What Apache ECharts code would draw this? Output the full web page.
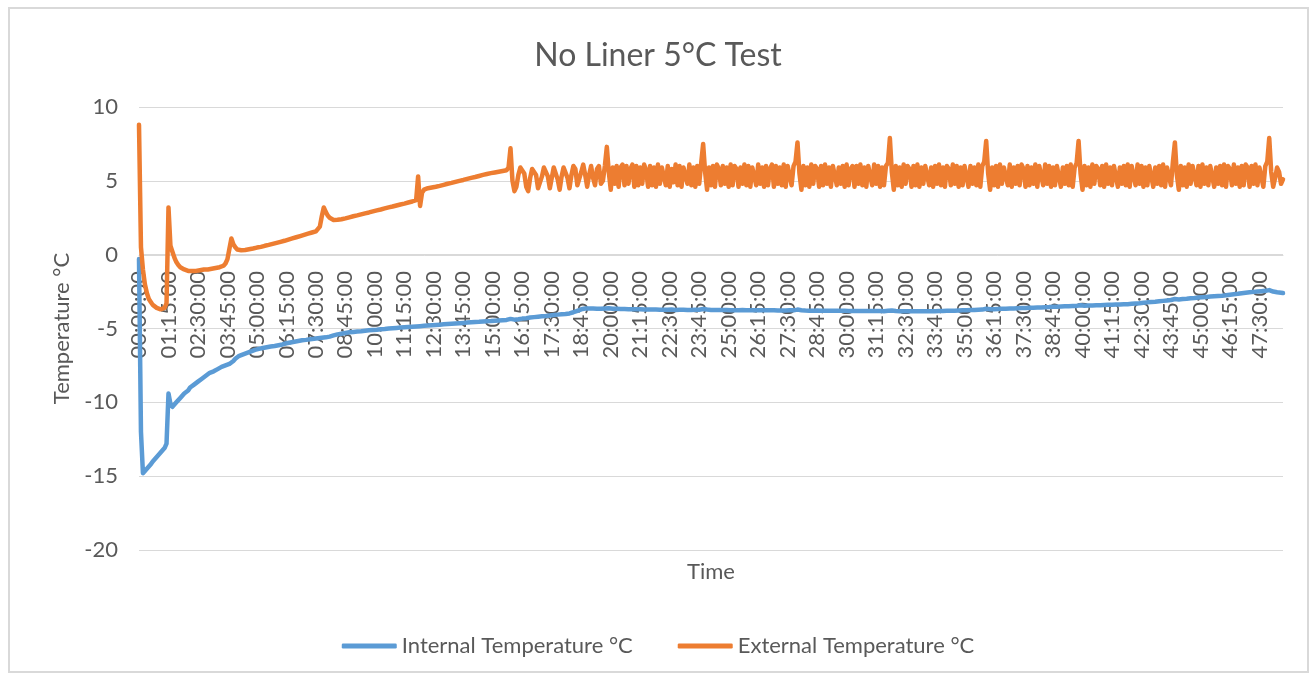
<!DOCTYPE html>
<html>
<head>
<meta charset="utf-8">
<title>No Liner 5°C Test</title>
<script src="https://cdn.jsdelivr.net/npm/echarts@6/dist/echarts.min.js"></script>
<style>
	html, body { margin : 0; padding : 0; background : #ffffff; }
	#main { width : 1316px; height : 679px; }
</style>
</head>
<body>
<div id="main"></div>
<script>
// readings every 5 minutes, 00:00:00 .. 48:30:00
var stepMinutes = 5;
var lastMinute = 2910;

var timeLabels = [];
for (var m = 0; m <= lastMinute; m += stepMinutes) {
	var h = Math.floor(m / 60), mm = m % 60;
	timeLabels.push((h < 10 ? '0' : '') + h + ':' + (mm < 10 ? '0' : '') + mm + ':00');
}

var yTicks = [ -20, -15, -10, -5, 0, 5, 10 ];

// one row per hour (12 readings)
var internalTemp = [
	-0.3, -12.0, -14.8, -14.7, -14.5, -14.4, -14.2, -14.0, -13.9, -13.7, -13.6, -13.4,
	-13.3, -13.1, -12.8, -9.4, -10.1, -10.3, -10.2, -10.0, -9.9, -9.7, -9.6, -9.4,
	-9.3, -9.2, -9.0, -8.9, -8.8, -8.7, -8.6, -8.5, -8.4, -8.3, -8.2, -8.1,
	-8.0, -7.95, -7.9, -7.8, -7.75, -7.7, -7.6, -7.55, -7.5, -7.45, -7.4, -7.3,
	-7.2, -7.05, -6.95, -6.85, -6.8, -6.75, -6.7, -6.65, -6.6, -6.55, -6.5, -6.45,
	-6.4, -6.38, -6.35, -6.32, -6.3, -6.27, -6.25, -6.22, -6.2, -6.18, -6.15, -6.13,
	-6.1, -6.08, -6.05, -6.0, -5.98, -5.95, -5.92, -5.9, -5.87, -5.85, -5.82, -5.8,
	-5.78, -5.77, -5.75, -5.73, -5.72, -5.7, -5.68, -5.66, -5.65, -5.63, -5.62, -5.6,
	-5.58, -5.55, -5.5, -5.47, -5.44, -5.4, -5.37, -5.35, -5.32, -5.3, -5.28, -5.26,
	-5.25, -5.23, -5.22, -5.2, -5.19, -5.18, -5.16, -5.15, -5.14, -5.12, -5.11, -5.1,
	-5.09, -5.08, -5.06, -5.05, -5.04, -5.03, -5.02, -5.0, -4.99, -4.98, -4.97, -4.96,
	-4.95, -4.94, -4.93, -4.92, -4.91, -4.9, -4.89, -4.88, -4.87, -4.86, -4.85, -4.84,
	-4.83, -4.82, -4.81, -4.8, -4.79, -4.78, -4.77, -4.76, -4.75, -4.74, -4.73, -4.72,
	-4.71, -4.7, -4.69, -4.68, -4.67, -4.66, -4.65, -4.64, -4.63, -4.62, -4.61, -4.6,
	-4.59, -4.58, -4.57, -4.56, -4.55, -4.55, -4.54, -4.53, -4.52, -4.51, -4.5, -4.5,
	-4.49, -4.48, -4.47, -4.46, -4.45, -4.44, -4.43, -4.42, -4.4, -4.35, -4.38, -4.4,
	-4.39, -4.37, -4.35, -4.33, -4.31, -4.3, -4.28, -4.26, -4.25, -4.23, -4.22, -4.2,
	-4.19, -4.17, -4.16, -4.15, -4.13, -4.12, -4.1, -4.09, -4.08, -4.06, -4.05, -4.04,
	-4.03, -4.02, -4.0, -3.98, -3.95, -3.9, -3.85, -3.8, -3.75, -3.7, -3.67, -3.65,
	-3.64, -3.64, -3.65, -3.65, -3.66, -3.66, -3.66, -3.67, -3.66, -3.65, -3.6, -3.63,
	-3.65, -3.66, -3.66, -3.67, -3.67, -3.68, -3.68, -3.68, -3.69, -3.69, -3.7, -3.7,
	-3.7, -3.7, -3.71, -3.7, -3.71, -3.72, -3.71, -3.72, -3.72, -3.71, -3.72, -3.72,
	-3.72, -3.73, -3.72, -3.73, -3.72, -3.73, -3.73, -3.72, -3.73, -3.74, -3.73, -3.73,
	-3.74, -3.73, -3.74, -3.74, -3.73, -3.74, -3.74, -3.73, -3.74, -3.73, -3.7, -3.68,
	-3.7, -3.72, -3.73, -3.74, -3.74, -3.75, -3.74, -3.75, -3.75, -3.74, -3.75, -3.75,
	-3.75, -3.76, -3.75, -3.76, -3.75, -3.76, -3.76, -3.75, -3.76, -3.76, -3.75, -3.76,
	-3.76, -3.76, -3.77, -3.76, -3.77, -3.76, -3.77, -3.77, -3.76, -3.77, -3.77, -3.77,
	-3.77, -3.78, -3.77, -3.78, -3.77, -3.78, -3.78, -3.77, -3.78, -3.77, -3.74, -3.72,
	-3.74, -3.76, -3.77, -3.78, -3.78, -3.79, -3.78, -3.79, -3.79, -3.78, -3.79, -3.79,
	-3.79, -3.8, -3.79, -3.8, -3.8, -3.79, -3.8, -3.8, -3.81, -3.8, -3.81, -3.8,
	-3.81, -3.81, -3.8, -3.81, -3.82, -3.81, -3.81, -3.82, -3.81, -3.82, -3.82, -3.81,
	-3.82, -3.82, -3.83, -3.82, -3.83, -3.82, -3.83, -3.83, -3.82, -3.8, -3.77, -3.78,
	-3.8, -3.82, -3.83, -3.83, -3.84, -3.83, -3.84, -3.84, -3.83, -3.84, -3.84, -3.83,
	-3.84, -3.83, -3.84, -3.83, -3.83, -3.84, -3.83, -3.83, -3.82, -3.83, -3.82, -3.82,
	-3.82, -3.81, -3.81, -3.8, -3.8, -3.8, -3.79, -3.79, -3.78, -3.78, -3.78, -3.77,
	-3.77, -3.76, -3.76, -3.75, -3.75, -3.74, -3.74, -3.73, -3.73, -3.72, -3.69, -3.66,
	-3.68, -3.7, -3.7, -3.69, -3.69, -3.68, -3.68, -3.67, -3.67, -3.66, -3.66, -3.65,
	-3.65, -3.64, -3.64, -3.63, -3.63, -3.62, -3.62, -3.61, -3.61, -3.6, -3.6, -3.59,
	-3.59, -3.58, -3.58, -3.57, -3.56, -3.56, -3.55, -3.55, -3.54, -3.53, -3.53, -3.52,
	-3.52, -3.51, -3.51, -3.5, -3.5, -3.49, -3.49, -3.48, -3.48, -3.47, -3.44, -3.42,
	-3.44, -3.46, -3.46, -3.45, -3.45, -3.44, -3.44, -3.43, -3.43, -3.42, -3.42, -3.41,
	-3.41, -3.4, -3.4, -3.39, -3.39, -3.38, -3.37, -3.37, -3.36, -3.36, -3.35, -3.35,
	-3.34, -3.33, -3.32, -3.31, -3.3, -3.29, -3.27, -3.26, -3.25, -3.23, -3.22, -3.21,
	-3.2, -3.19, -3.17, -3.16, -3.14, -3.13, -3.11, -3.1, -3.08, -3.07, -3.03, -3.0,
	-3.02, -3.03, -3.02, -3.0, -2.99, -2.98, -2.96, -2.95, -2.94, -2.93, -2.92, -2.9,
	-2.89, -2.88, -2.87, -2.86, -2.85, -2.84, -2.83, -2.82, -2.81, -2.8, -2.79, -2.78,
	-2.76, -2.75, -2.73, -2.71, -2.7, -2.68, -2.66, -2.65, -2.63, -2.61, -2.6, -2.58,
	-2.56, -2.55, -2.53, -2.52, -2.5, -2.49, -2.48, -2.47, -2.46, -2.45, -2.42, -2.4,
	-2.45, -2.5, -2.52, -2.55, -2.57, -2.58, -2.6
];

var externalTemp = [
	8.8, 0.5, -1.0, -2.0, -2.6, -3.0, -3.2, -3.4, -3.5, -3.6, -3.7, -3.7,
	-3.7, -3.6, -3.3, 3.2, 0.6, 0.2, -0.2, -0.5, -0.7, -0.85, -0.95, -1.0,
	-1.05, -1.1, -1.1, -1.1, -1.1, -1.1, -1.1, -1.05, -1.05, -1.0, -1.0, -1.0,
	-0.95, -0.95, -0.9, -0.9, -0.85, -0.85, -0.8, -0.75, -0.6, -0.3, 0.4, 1.1,
	0.7, 0.5, 0.35, 0.3, 0.3, 0.3, 0.32, 0.35, 0.37, 0.4, 0.42, 0.45,
	0.48, 0.5, 0.53, 0.56, 0.6, 0.63, 0.66, 0.7, 0.73, 0.76, 0.8, 0.83,
	0.87, 0.9, 0.94, 0.98, 1.02, 1.06, 1.1, 1.14, 1.18, 1.22, 1.26, 1.3,
	1.34, 1.38, 1.42, 1.46, 1.5, 1.54, 1.58, 1.65, 1.9, 2.6, 3.2, 2.9,
	2.65, 2.5, 2.4, 2.35, 2.35, 2.36, 2.38, 2.4, 2.43, 2.46, 2.5, 2.53,
	2.56, 2.6, 2.63, 2.66, 2.7, 2.73, 2.76, 2.8, 2.83, 2.86, 2.9, 2.93,
	2.96, 3.0, 3.03, 3.06, 3.1, 3.13, 3.16, 3.2, 3.23, 3.26, 3.3, 3.33,
	3.36, 3.4, 3.43, 3.46, 3.5, 3.53, 3.56, 3.6, 3.63, 3.7, 5.3, 3.3,
	4.2, 4.4, 4.45, 4.5, 4.52, 4.55, 4.58, 4.6, 4.63, 4.66, 4.7, 4.73,
	4.76, 4.8, 4.83, 4.86, 4.9, 4.93, 4.96, 5.0, 5.03, 5.06, 5.1, 5.13,
	5.16, 5.2, 5.23, 5.26, 5.3, 5.33, 5.36, 5.4, 5.43, 5.46, 5.5, 5.52,
	5.55, 5.57, 5.6, 5.62, 5.65, 5.67, 5.7, 5.72, 5.9, 7.2, 5.0, 4.3,
	4.6, 5.4, 5.9, 6.0, 5.5, 4.6, 4.3, 5.2, 5.8, 5.9, 5.4, 4.5,
	4.4, 5.3, 5.9, 6.0, 5.3, 4.5, 5.2, 5.9, 6.0, 5.1, 4.4, 5.3,
	5.9, 6.0, 5.2, 4.5, 5.4, 6.0, 5.8, 4.7, 4.6, 5.6, 6.1, 5.4,
	4.6, 5.4, 6.0, 5.2, 4.7, 5.8, 6.0, 4.8, 5.0, 6.0, 7.3, 5.6,
	4.4, 5.9, 4.8, 6.0, 4.6, 5.9, 6.1, 4.7, 6.0, 4.8, 5.8, 6.1,
	4.6, 6.0, 4.7, 5.9, 4.8, 6.1, 5.7, 4.6, 6.0, 4.7, 5.9, 4.6,
	6.1, 4.8, 5.9, 6.0, 4.7, 6.0, 4.6, 5.8, 4.9, 6.1, 4.7, 6.0,
	4.6, 5.9, 6.0, 4.8, 6.1, 4.7, 5.9, 4.6, 6.0, 4.8, 6.2, 7.5,
	5.6, 4.4, 5.9, 4.7, 6.0, 4.6, 6.1, 5.8, 4.7, 6.0, 4.8, 5.9,
	4.6, 6.1, 4.7, 6.0, 5.8, 4.6, 5.9, 4.8, 6.1, 4.7, 6.0, 4.6,
	5.9, 6.0, 4.7, 6.1, 4.8, 5.9, 4.6, 6.0, 4.7, 5.8, 6.1, 4.6,
	6.0, 4.8, 5.9, 4.7, 6.1, 4.6, 6.0, 5.9, 4.7, 6.0, 6.3, 7.6,
	5.5, 4.4, 6.0, 4.7, 5.9, 4.6, 6.1, 4.8, 6.0, 5.8, 4.6, 6.0,
	4.7, 6.1, 4.8, 5.9, 4.6, 6.0, 6.1, 4.7, 5.9, 4.8, 6.0, 4.6,
	6.1, 4.7, 5.8, 6.0, 4.6, 6.0, 4.8, 6.1, 4.7, 5.9, 4.6, 6.0,
	5.9, 4.7, 6.1, 4.8, 6.0, 4.6, 5.9, 4.7, 6.0, 6.2, 7.9, 5.6,
	4.4, 6.0, 4.7, 5.9, 4.6, 6.1, 4.8, 6.0, 5.8, 4.6, 6.0, 4.7,
	6.1, 4.6, 5.9, 4.8, 6.0, 6.1, 4.7, 5.9, 4.6, 6.0, 4.8, 6.1,
	4.7, 5.9, 4.6, 6.0, 5.8, 4.7, 6.1, 4.8, 6.0, 4.6, 5.9, 4.7,
	6.0, 6.1, 4.6, 6.0, 4.8, 5.9, 4.7, 6.1, 4.6, 6.0, 6.3, 7.7,
	5.5, 4.4, 5.9, 4.7, 6.0, 4.6, 6.1, 4.8, 5.9, 6.0, 4.7, 6.1,
	4.6, 5.9, 4.8, 6.0, 4.7, 6.1, 5.8, 4.6, 6.0, 4.7, 5.9, 4.8,
	6.1, 4.6, 6.0, 5.9, 4.7, 6.1, 4.8, 6.0, 4.6, 5.9, 4.7, 6.0,
	6.1, 4.6, 5.9, 4.8, 6.0, 4.7, 6.1, 4.6, 5.9, 6.2, 7.7, 5.5,
	4.4, 6.0, 4.7, 5.9, 4.6, 6.1, 4.8, 6.0, 5.8, 4.7, 6.0, 4.6,
	6.1, 4.8, 5.9, 4.7, 6.0, 6.1, 4.6, 5.9, 4.8, 6.0, 4.7, 6.1,
	4.6, 6.0, 5.9, 4.7, 6.1, 4.8, 6.0, 4.6, 5.9, 4.7, 6.0, 6.1,
	4.6, 5.9, 4.8, 6.0, 4.7, 6.1, 4.6, 5.9, 6.0, 4.7, 6.3, 7.6,
	5.4, 4.4, 6.0, 4.7, 5.9, 4.6, 6.1, 4.8, 6.0, 5.9, 4.7, 6.0,
	4.6, 6.1, 4.8, 5.9, 4.7, 6.0, 6.1, 4.6, 5.9, 4.8, 6.0, 4.7,
	6.1, 4.6, 6.0, 5.8, 4.7, 6.1, 4.8, 5.9, 4.6, 6.0, 4.7, 6.1,
	5.9, 4.6, 6.0, 4.8, 6.1, 4.7, 5.9, 6.0, 4.6, 6.0, 6.3, 7.9,
	5.6, 4.6, 5.2, 5.9, 5.6, 4.8, 5.1
];

var fontName = 'Lato, "Noto Sans", sans-serif';
var textGrey = '#595959';
var gridGrey = '#d9d9d9';

function drawChart() {
	var myChart = echarts.init(document.getElementById('main'));

	myChart.setOption({
		animation : false,
		backgroundColor : '#ffffff',
		textStyle : {
			fontFamily : fontName
		},
		title : {
			text : 'No Liner 5°C Test',
			left : 'center',
			top : 35,
			textStyle : {
				fontFamily : fontName,
				fontSize : 32,
				fontWeight : 'normal',
				color : textGrey
			}
		},
		graphic : [ {
			type : 'rect',
			shape : { x : 9, y : 8, width : 1299, height : 664 },
			style : { fill : 'none', stroke : gridGrey, lineWidth : 2 },
			silent : true
		} ],
		legend : {
			left : 'center',
			top : 630,
			icon : 'roundRect',
			itemWidth : 55,
			itemHeight : 5,
			itemGap : 45,
			textStyle : {
				fontFamily : fontName,
				fontSize : 22,
				color : textGrey
			},
			data : [ 'Internal Temperature °C', 'External Temperature °C' ]
		},
		grid : {
			left : 139,
			right : 33,
			top : 107,
			bottom : 129,
			containLabel : false,
			outerBoundsMode : 'none'
		},
		xAxis : {
			type : 'category',
			data : timeLabels,
			boundaryGap : false,
			position : 'bottom',
			// Excel draws the category axis where the value axis crosses 0
			offset : -295,
			name : 'Time',
			nameLocation : 'middle',
			nameGap : 306,
			nameTextStyle : {
				fontFamily : fontName,
				fontSize : 22,
				color : textGrey
			},
			axisLine : {
				onZero : false,
				lineStyle : { color : gridGrey, width : 1 }
			},
			axisTick : { show : false },
			axisLabel : {
				interval : 14,
				rotate : 90,
				margin : 16,
				fontFamily : fontName,
				fontSize : 22,
				color : textGrey
			},
			splitLine : { show : false }
		},
		yAxis : {
			type : 'value',
			min : yTicks[0],
			max : yTicks[yTicks.length - 1],
			interval : 5,
			name : 'Temperature °C',
			nameLocation : 'middle',
			nameRotate : 90,
			nameGap : 66,
			nameTextStyle : {
				fontFamily : fontName,
				fontSize : 22,
				color : textGrey
			},
			axisLine : { show : false },
			axisTick : { show : false },
			axisLabel : {
				margin : 21,
				fontFamily : fontName,
				fontSize : 22,
				color : textGrey
			},
			splitLine : {
				lineStyle : { color : gridGrey, width : 1 }
			}
		},
		series : [ {
			name : 'Internal Temperature °C',
			type : 'line',
			data : internalTemp,
			showSymbol : false,
			symbol : 'none',
			color : '#5b9bd5',
			lineStyle : { width : 4.5, color : '#5b9bd5', cap : 'round', join : 'round' },
			silent : true
		}, {
			name : 'External Temperature °C',
			type : 'line',
			data : externalTemp,
			showSymbol : false,
			symbol : 'none',
			color : '#ed7d31',
			lineStyle : { width : 4.5, color : '#ed7d31', cap : 'round', join : 'round' },
			silent : true
		} ]
	});
}

drawChart();
</script>
</body>
</html>
